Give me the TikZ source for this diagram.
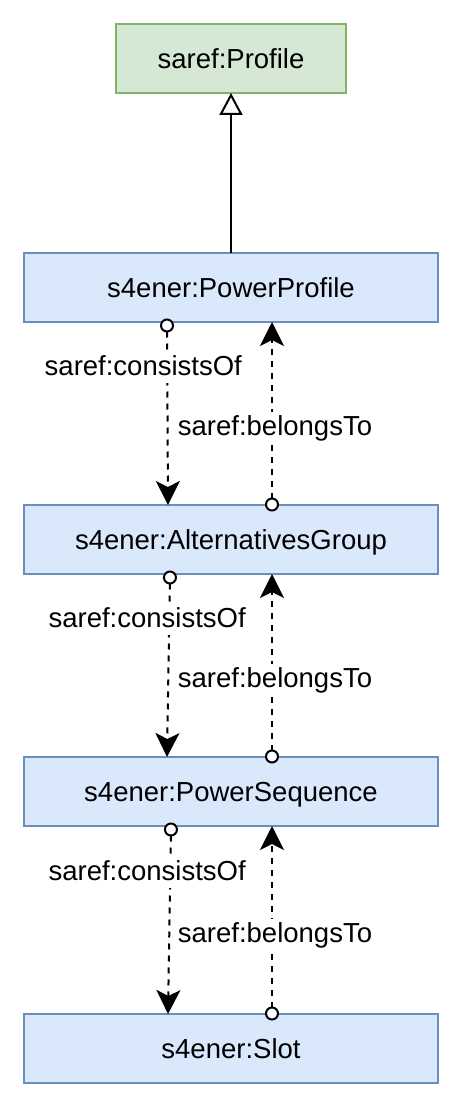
\documentclass[tikz,border=0pt]{standalone}
\usepackage{fontspec}
\setmainfont{Liberation Sans}
\usepackage{tikz}
\usetikzlibrary{positioning, arrows.meta}
\definecolor{clsfill}{HTML}{DAE8FC}
\definecolor{clsline}{HTML}{6C8EBF}
\definecolor{supfill}{HTML}{D5E8D4}
\definecolor{supline}{HTML}{82B366}
\tikzset{
cls/.style={draw=clsline, fill=clsfill, line width=2pt, minimum width=414pt, minimum height=69pt, outer sep=0pt, inner sep=0pt, text height=19.7pt, text depth=0pt, font=\fontsize{27.5}{33}\selectfont}, % the s4ener class boxes
supcls/.style={cls, draw=supline, fill=supfill, minimum width=230pt}, % the saref super class
rel/.style={line width=2pt, dash pattern=on 6pt off 6pt}, % dashed object properties
consists/.style={rel, {Circle[open, fill=white, length=14pt]}-{Stealth[length=24pt, width=24pt, inset=6pt]}, shorten <=-3.5pt},
belongs/.style={rel, {Circle[open, fill=white, length=14pt]}-{Stealth[length=24pt, width=24pt, inset=6pt]}, shorten <=-6.5pt},
gen/.style={line width=2pt, -{Triangle[open, fill=white, length=22pt, width=23pt]}}, % subclass arrow
lbl/.style={fill=white, anchor=base, inner sep=1.5pt, text height=22pt, text depth=6pt, font=\fontsize{27.5}{33}\selectfont}, % edge labels
}
\begin{document}
\begin{tikzpicture}[x=1pt, y=-1pt]
\useasboundingbox (0,0) rectangle (462,1107);
\node[supcls] (prof) at (231,58.5) {saref:Profile};
\node[cls, below=160pt of prof] (pp) {s4ener:PowerProfile};
\node[cls, below=183pt of pp] (ag) {s4ener:AlternativesGroup};
\node[cls, below=183pt of ag] (ps) {s4ener:PowerSequence};
\node[cls, below=188pt of ps] (slot) {s4ener:Slot};
\draw[gen] (pp.north) -- (prof.south);
\draw
([xshift=-64pt]pp.south) edge[consists] node[lbl, pos=.29, xshift=-24pt]{saref:consistsOf} ([xshift=-63pt]ag.north)
([xshift=41pt]ag.north) edge[belongs] node[lbl, pos=.38, xshift=3pt]{saref:belongsTo} ([xshift=41pt]pp.south)
([xshift=-61pt]ag.south) edge[consists] node[lbl, pos=.29, xshift=-22pt]{saref:consistsOf} ([xshift=-64pt]ps.north)
([xshift=41pt]ps.north) edge[belongs] node[lbl, pos=.38, xshift=3pt]{saref:belongsTo} ([xshift=41pt]ag.south)
([xshift=-60pt]ps.south) edge[consists] node[lbl, pos=.29, xshift=-23pt]{saref:consistsOf} ([xshift=-63pt]slot.north)
([xshift=41pt]slot.north) edge[belongs] node[lbl, pos=.38, xshift=3pt]{saref:belongsTo} ([xshift=41pt]ps.south)
;
\end{tikzpicture}
\end{document}
